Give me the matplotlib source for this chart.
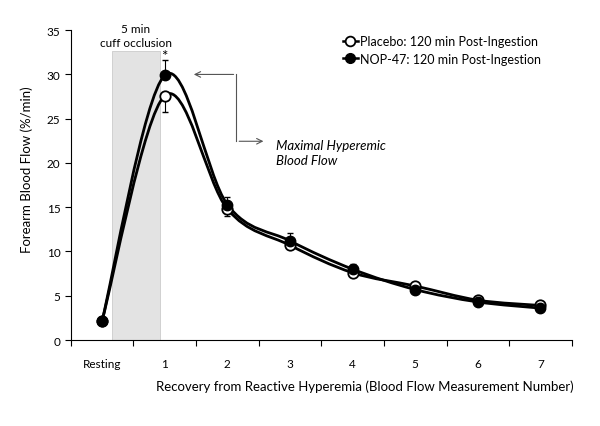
import matplotlib.pyplot as plt
import numpy as np
from matplotlib.path import Path
from matplotlib.patches import PathPatch

plt.rcParams['font.family'] = ['Lato', 'DejaVu Sans']

categories = ["Resting", "1", "2", "3", "4", "5", "6", "7"]
placebo = [2.2, 27.6, 14.8, 10.7, 7.6, 6.1, 4.5, 3.9]
placebo_err_low = [0, 1.8, 0.8, 0, 0, 0, 0, 0]
nop47 = [2.2, 29.9, 15.3, 11.2, 8.0, 5.7, 4.3, 3.6]
nop47_err_high = [0, 1.7, 0.9, 0.9, 0.6, 0, 0, 0]

x = np.arange(1, len(categories) + 1)


def smooth_path(xs, ys):
    # Excel-style smoothed line as cubic Bezier segments (Catmull-Rom)
    pts = np.column_stack([xs, ys]).astype(float)
    ext = np.vstack([pts[0], pts, pts[-1]])
    verts = [pts[0]]
    codes = [Path.MOVETO]
    for i in range(len(pts) - 1):
        p0, p1, p2, p3 = ext[i], ext[i + 1], ext[i + 2], ext[i + 3]
        verts += [p1 + (p2 - p0) / 6, p2 - (p3 - p1) / 6, p2]
        codes += [Path.CURVE4] * 3
    return Path(verts, codes)


fig = plt.figure(figsize=(6, 4.27), dpi=100)
ax = fig.add_axes([0.118, 0.2014, 0.835, 0.7256])

# cuff occlusion shading
ax.fill_between([1.157, 1.926], 0, 32.6, color='#e3e3e3', edgecolor='#cccccc', lw=0.6, zorder=0)

for ys in (placebo, nop47):
    ax.add_patch(PathPatch(smooth_path(x, ys), fill=False, lw=2.0, color='black', zorder=2))

ax.errorbar(x, placebo, yerr=[placebo_err_low, [0] * len(x)], fmt='none',
            ecolor='black', elinewidth=0.8, capsize=2, zorder=1)
ax.errorbar(x, nop47, yerr=[[0] * len(x), nop47_err_high], fmt='none',
            ecolor='black', elinewidth=0.8, capsize=2, zorder=1)

ax.plot(x, placebo, 'o', ms=7.5, mfc='white', mec='black', mew=1.3, zorder=3)
ax.plot(x, nop47, 'o', ms=7.5, mfc='black', mec='black', zorder=4)

# legend proxies
h1, = ax.plot([], [], '-o', color='black', ms=7, mfc='white', lw=1.8, mew=1.3)
h2, = ax.plot([], [], '-o', color='black', ms=7, lw=1.8)
ax.legend([h1, h2], ["Placebo: 120 min Post-Ingestion", "NOP-47: 120 min Post-Ingestion"],
          loc='upper left', bbox_to_anchor=(0.52, 1.02), frameon=False,
          handlelength=1.2, handletextpad=0.2, fontsize=9, labelspacing=0.45)

ax.text(1.54, 33.0, "5 min\ncuff occlusion", ha='center', va='bottom', fontsize=8.5,
        linespacing=1.3)
ax.text(2.0, 31.3, "*", ha='center', va='bottom', fontsize=11)

# annotation arrow
arrow_color = '#555555'
ax.plot([3.144, 3.144], [30.0, 22.45], color=arrow_color, lw=0.8)
ax.annotate('', xy=(2.42, 30.0), xytext=(3.144, 30.0),
            arrowprops=dict(arrowstyle='->', color=arrow_color, lw=0.8))
ax.annotate('', xy=(3.62, 22.45), xytext=(3.144, 22.45),
            arrowprops=dict(arrowstyle='->', color=arrow_color, lw=0.8))
ax.text(3.77, 22.7, "Maximal Hyperemic\nBlood Flow", ha='left', va='top',
        fontsize=9.5, style='italic', linespacing=1.25)

ax.set_xlim(0.5, 8.5)
ax.set_ylim(0, 35)
ax.set_yticks(np.arange(0, 36, 5))
ax.set_xticks(np.arange(0.5, 9, 1))
ax.set_xticklabels([])
ax.set_xticks(x, minor=True)
ax.set_xticklabels(categories, minor=True)
ax.tick_params(axis='x', which='minor', length=0, pad=13, labelsize=8.5)
ax.tick_params(axis='x', which='major', direction='out', length=4)
ax.tick_params(axis='y', direction='out', length=4, labelsize=8.5)

for s in ('top', 'right'):
    ax.spines[s].set_visible(False)

ax.set_ylabel("Forearm Blood Flow (%/min)", fontsize=9.5)
ax.yaxis.set_label_coords(-0.076, 0.552)
ax.set_xlabel("Recovery from Reactive Hyperemia (Blood Flow Measurement Number)",
              fontsize=9.5)
ax.xaxis.set_label_coords(0.587, -0.127)

fig.savefig("out.png", dpi=100)
